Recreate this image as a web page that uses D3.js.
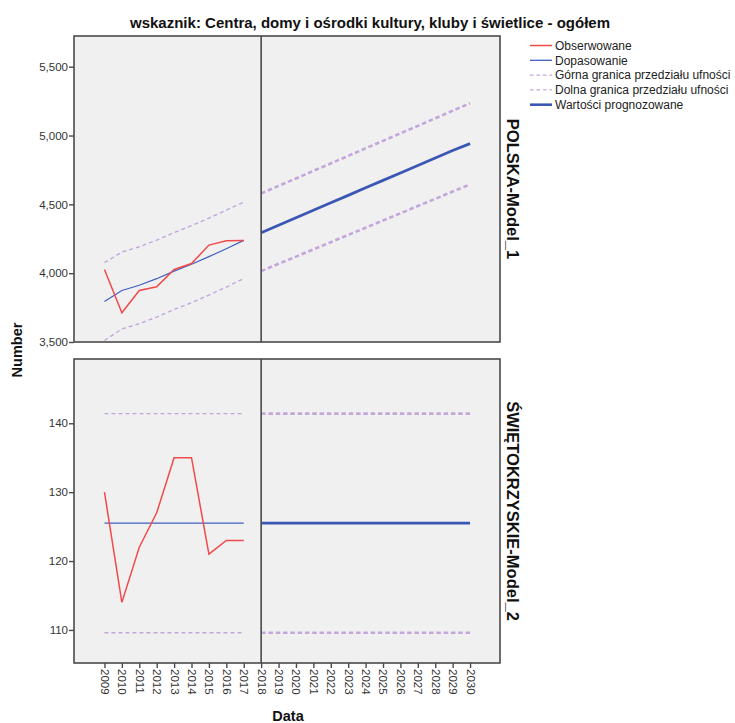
<!DOCTYPE html>
<html>
<head>
<meta charset="utf-8">
<script src="https://cdn.jsdelivr.net/npm/d3@7"></script>
<style>
  body { margin: 0; background: #fff; }
  svg { display: block; font-family: "Liberation Sans", Arial, sans-serif; }
</style>
</head>
<body>
<svg id="chart" width="735" height="723"></svg>
<script>
// ---- data ----
const histYears = [2009, 2010, 2011, 2012, 2013, 2014, 2015, 2016, 2017];
const foreYears = [2018, 2019, 2020, 2021, 2022, 2023, 2024, 2025, 2026, 2027, 2028, 2029, 2030];
const xTickYears = [2009, 2010, 2011, 2012, 2013, 2014, 2015, 2016, 2017, 2018, 2019, 2020, 2021, 2022, 2023, 2024, 2025, 2026, 2027, 2028, 2029, 2030];

// POLSKA-Model_1
const plObserved = [4027, 3712, 3874, 3901, 4027, 4070, 4204, 4236, 4238];
const plFitted   = [3794, 3874, 3912, 3960, 4015, 4065, 4120, 4178, 4238];
const plUpper    = [4076, 4153, 4192, 4240, 4295, 4345, 4400, 4458, 4516];
const plLower    = [3511, 3595, 3633, 3681, 3736, 3786, 3841, 3899, 3961];
const plForecast = [4294, 4348, 4403, 4457, 4511, 4565, 4620, 4674, 4728, 4782, 4837, 4891, 4941];
const plFUpper   = [4579, 4634, 4688, 4743, 4797, 4852, 4907, 4961, 5016, 5070, 5125, 5180, 5234];
const plFLower   = [4015, 4068, 4120, 4173, 4225, 4278, 4330, 4383, 4435, 4488, 4540, 4593, 4645];
const plTicks    = [3500, 4000, 4500, 5000, 5500];

// ŚWIĘTOKRZYSKIE-Model_2
const swObserved = [130, 114, 122, 127, 135, 135, 121, 123, 123];
const swFitted   = [125.5, 125.5, 125.5, 125.5, 125.5, 125.5, 125.5, 125.5, 125.5];
const swUpper    = [141.4, 141.4, 141.4, 141.4, 141.4, 141.4, 141.4, 141.4, 141.4];
const swLower    = [109.6, 109.6, 109.6, 109.6, 109.6, 109.6, 109.6, 109.6, 109.6];
const swForecast = [125.5, 125.5, 125.5, 125.5, 125.5, 125.5, 125.5, 125.5, 125.5, 125.5, 125.5, 125.5, 125.5];
const swFUpper   = [141.4, 141.4, 141.4, 141.4, 141.4, 141.4, 141.4, 141.4, 141.4, 141.4, 141.4, 141.4, 141.4];
const swFLower   = [109.6, 109.6, 109.6, 109.6, 109.6, 109.6, 109.6, 109.6, 109.6, 109.6, 109.6, 109.6, 109.6];
const swTicks    = [110, 120, 130, 140];

const legendLabels = ["Obserwowane", "Dopasowanie", "Górna granica przedziału ufności", "Dolna granica przedziału ufności", "Wartości prognozowane"];
const titleText = "wskaznik: Centra, domy i ośrodki kultury, kluby i świetlice - ogółem";
const rowLabels = ["POLSKA-Model_1", "ŚWIĘTOKRZYSKIE-Model_2"];

// ---- styles ----
const C_OBS = "#f24a4a";
const C_FIT = "#3f5fbf";
const C_BND = "#c3a6dc";
const C_FC  = "#3a57b5";
const C_FRAME = "#4a4a4a";

const svg = d3.select("#chart");
const left = 74, right = 500;
const x = d3.scaleLinear().domain([2007.25, 2031.72]).range([left, right]);

const panels = [
  { top: 36, bottom: 342, domain: [3500, 5723], ticks: plTicks, fmt: d3.format(","),
    obs: plObserved, fit: plFitted, up: plUpper, lo: plLower, fc: plForecast, fup: plFUpper, flo: plFLower, label: rowLabels[0] },
  { top: 359, bottom: 663, domain: [105.2, 149.33], ticks: swTicks, fmt: d3.format("d"),
    obs: swObserved, fit: swFitted, up: swUpper, lo: swLower, fc: swForecast, fup: swFUpper, flo: swFLower, label: rowLabels[1] }
];

panels.forEach((p, i) => {
  const y = d3.scaleLinear().domain(p.domain).range([p.bottom, p.top]);
  const g = svg.append("g");
  g.append("rect").attr("x", left).attr("y", p.top).attr("width", right - left).attr("height", p.bottom - p.top)
    .attr("fill", "#f0f0f0");

  const line = d3.line().x(d => x(d[0])).y(d => y(d[1]));
  const hist = arr => histYears.map((yr, k) => [yr, arr[k]]);
  const fore = arr => foreYears.map((yr, k) => [yr, arr[k]]);

  g.append("path").datum(hist(p.up)).attr("d", line).attr("fill", "none")
    .attr("stroke", C_BND).attr("stroke-width", 1.4).attr("stroke-dasharray", "4,3");
  g.append("path").datum(hist(p.lo)).attr("d", line).attr("fill", "none")
    .attr("stroke", C_BND).attr("stroke-width", 1.4).attr("stroke-dasharray", "4,3");
  g.append("path").datum(hist(p.fit)).attr("d", line).attr("fill", "none")
    .attr("stroke", C_FIT).attr("stroke-width", 1.2);
  g.append("path").datum(hist(p.obs)).attr("d", line).attr("fill", "none")
    .attr("stroke", C_OBS).attr("stroke-width", 1.5);

  g.append("path").datum(fore(p.fup)).attr("d", line).attr("fill", "none")
    .attr("stroke", C_BND).attr("stroke-width", 2.6).attr("stroke-dasharray", "4.5,2.8");
  g.append("path").datum(fore(p.flo)).attr("d", line).attr("fill", "none")
    .attr("stroke", C_BND).attr("stroke-width", 2.6).attr("stroke-dasharray", "4.5,2.8");
  g.append("path").datum(fore(p.fc)).attr("d", line).attr("fill", "none")
    .attr("stroke", C_FC).attr("stroke-width", 2.8);

  // vertical reference line at 2018
  g.append("line").attr("x1", x(2018)).attr("x2", x(2018)).attr("y1", p.top).attr("y2", p.bottom)
    .attr("stroke", C_FRAME).attr("stroke-width", 1.6);

  // frame
  g.append("rect").attr("x", left).attr("y", p.top).attr("width", right - left).attr("height", p.bottom - p.top)
    .attr("fill", "none").attr("stroke", C_FRAME).attr("stroke-width", 1.6);

  // y axis
  const ax = g.append("g").attr("transform", `translate(${left},0)`)
    .call(d3.axisLeft(y).tickValues(p.ticks).tickFormat(p.fmt).tickSize(5).tickSizeOuter(0));
  ax.select(".domain").remove();
  ax.selectAll(".tick line").attr("stroke", C_FRAME).attr("stroke-width", 1.4);
  ax.selectAll(".tick text").attr("font-size", 11.5).attr("fill", "#333")
    .attr("font-family", "'Liberation Sans', Arial, sans-serif").attr("x", -6);

  // row label
  const cy = (p.top + p.bottom) / 2;
  svg.append("text").attr("transform", `translate(507,${cy}) rotate(90)`)
    .attr("text-anchor", "middle").attr("font-size", 16.5).attr("font-weight", "bold").attr("fill", "#111")
    .text(p.label);
});

// x axis (bottom panel)
const xa = svg.append("g").attr("transform", `translate(0,${panels[1].bottom})`)
  .call(d3.axisBottom(x).tickValues(xTickYears).tickFormat(d3.format("d")).tickSize(5).tickSizeOuter(0));
xa.select(".domain").remove();
xa.selectAll(".tick line").attr("stroke", C_FRAME).attr("stroke-width", 1.4);
xa.selectAll(".tick text").attr("font-size", 11.5).attr("fill", "#333")
  .attr("font-family", "'Liberation Sans', Arial, sans-serif")
  .attr("transform", "rotate(90)").attr("x", 6).attr("y", 0).attr("dy", "0.35em")
  .attr("text-anchor", "start");

// titles
svg.append("text").attr("x", 370).attr("y", 28).attr("text-anchor", "middle")
  .attr("font-size", 15).attr("font-weight", "bold").attr("fill", "#111")
  .attr("textLength", 480).attr("lengthAdjust", "spacingAndGlyphs")
  .text(titleText);
svg.append("text").attr("x", 288).attr("y", 721).attr("text-anchor", "middle")
  .attr("font-size", 14.5).attr("font-weight", "bold").attr("fill", "#111").text("Data");
svg.append("text").attr("transform", "translate(22,350) rotate(-90)").attr("text-anchor", "middle")
  .attr("font-size", 14.5).attr("font-weight", "bold").attr("fill", "#111").text("Number");

// legend
const legStyles = [
  { c: C_OBS, w: 1.5, dash: null },
  { c: C_FIT, w: 1.3, dash: null },
  { c: C_BND, w: 1.4, dash: "3.5,3" },
  { c: C_BND, w: 1.4, dash: "3.5,3" },
  { c: C_FC,  w: 2.6, dash: null }
];
const leg = svg.append("g");
legendLabels.forEach((t, i) => {
  const yy = 45.5 + i * 14.8;
  leg.append("line").attr("x1", 530).attr("x2", 552).attr("y1", yy).attr("y2", yy)
    .attr("stroke", legStyles[i].c).attr("stroke-width", legStyles[i].w)
    .attr("stroke-dasharray", legStyles[i].dash);
  leg.append("text").attr("x", 555).attr("y", yy).attr("dy", "0.35em")
    .attr("font-size", 12).attr("fill", "#222").text(t);
});
</script>
</body>
</html>
